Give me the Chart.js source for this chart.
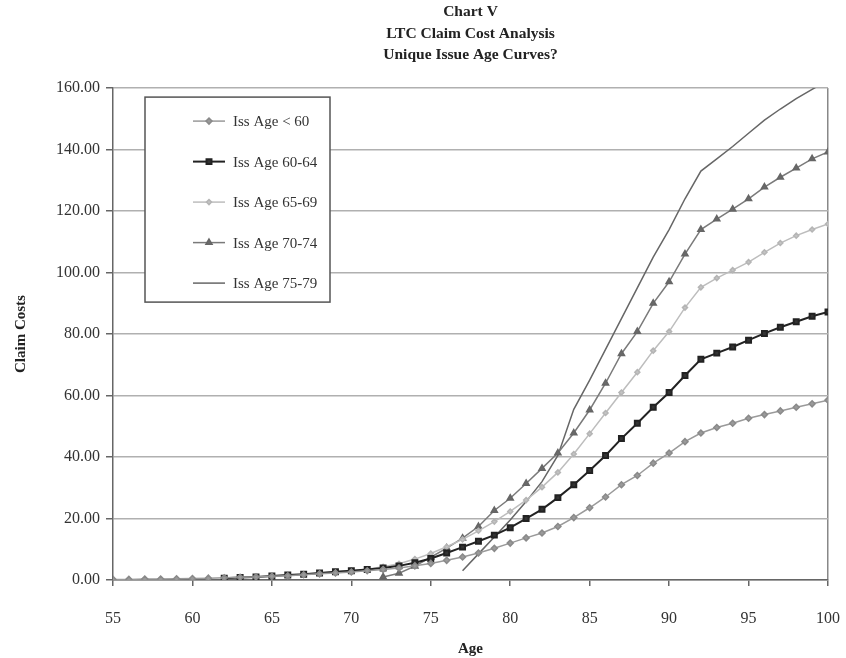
<!DOCTYPE html>
<html>
<head>
<meta charset="utf-8">
<title>Chart V - LTC Claim Cost Analysis</title>
<script src="https://cdn.jsdelivr.net/npm/chart.js@4.4.1/dist/chart.umd.min.js"></script>
<style>
  html, body { margin: 0; padding: 0; background: #fff; }
  #wrap { width: 846px; height: 658px; position: relative; }
</style>
</head>
<body>
<div id="wrap"><canvas id="myChart"></canvas></div>
<script>
// ages 55..100
const ages = [55, 56, 57, 58, 59, 60, 61, 62, 63, 64, 65, 66, 67, 68, 69, 70, 71, 72, 73, 74, 75, 76, 77,
  78, 79, 80, 81, 82, 83, 84, 85, 86, 87, 88, 89, 90, 91, 92, 93, 94, 95, 96, 97, 98, 99, 100]

const seriesNames = ['Iss Age < 60', 'Iss Age 60-64', 'Iss Age 65-69', 'Iss Age 70-74', 'Iss Age 75-79']

// claim costs by attained age (null = before issue age band)
const issLt60 = [0.2, 0.2, 0.3, 0.3, 0.4, 0.5, 0.6, 0.7, 0.9, 1.0, 1.2, 1.4, 1.7, 2.0, 2.3, 2.6, 3.0, 3.4, 3.9, 4.6, 5.4, 6.4, 7.5,
  8.8, 10.3, 12.0, 13.7, 15.3, 17.4, 20.3, 23.5, 27.0, 31.0, 34.0, 38.0, 41.3, 45.0, 47.8, 49.6, 51.0, 52.6, 53.8, 55.0, 56.2, 57.3, 58.5]
const iss6064 = [null, null, null, null, null, null, null, 0.6, 0.8, 1.0, 1.3, 1.6, 1.9, 2.3, 2.7, 3.0, 3.4, 3.9, 4.6, 5.6, 7.0, 8.8, 10.7,
  12.6, 14.6, 17.0, 20.0, 23.0, 26.8, 31.0, 35.6, 40.5, 46.0, 51.0, 56.2, 61.0, 66.5, 71.8, 73.8, 75.8, 78.0, 80.2, 82.2, 84.0, 85.8, 87.2]
const iss6569 = [null, null, null, null, null, null, null, null, null, null, null, null, 1.8, 2.2, 2.6, 3.0, 3.5, 4.3, 5.3, 6.8, 8.6, 10.8, 13.2,
  16.0, 19.0, 22.3, 26.0, 30.2, 35.0, 41.0, 47.6, 54.3, 61.0, 67.6, 74.6, 80.8, 88.6, 95.2, 98.2, 100.8, 103.4, 106.6, 109.6, 112.0, 114.0, 115.8]
const iss7074 = [null, null, null, null, null, null, null, null, null, null, null, null, null, null, null, null, null, 1.0, 2.2, 4.5, 7.4, 10.4, 13.6,
  17.4, 22.6, 26.6, 31.4, 36.3, 41.3, 47.8, 55.3, 64.0, 73.6, 80.8, 90.0, 97.0, 106.0, 114.0, 117.4, 120.6, 124.0, 127.8, 131.0, 134.0, 137.0, 139.2]
const iss7579 = [null, null, null, null, null, null, null, null, null, null, null, null, null, null, null, null, null, null, null, null, null, null, 3.0,
  8.5, 14.0, 19.5, 25.5, 32.0, 40.5, 55.5, 65.0, 75.0, 85.0, 95.0, 105.0, 114.0, 124.0, 133.0, 137.0, 141.0, 145.3, 149.6, 153.2, 156.6, 159.6, 162.5]

const xTicks = [55, 60, 65, 70, 75, 80, 85, 90, 95, 100]
const yTicks = [0, 20, 40, 60, 80, 100, 120, 140, 160]

const serif = "'Liberation Serif', 'Times New Roman', serif"

function toPoints(values) {
  const pts = []
  values.forEach((v, i) => {
    if (v !== null) pts.push({ x: ages[i], y: v })
  })
  return pts
}

// legend drawn as a framed box inside the plot, like the original
const boxLegend = {
  id: 'boxLegend',
  afterDraw(chart) {
    const ctx = chart.ctx
    const area = chart.chartArea
    const bx = area.left + 32
    const by = area.top + 9
    const bw = 185
    const bh = 205
    ctx.save()
    ctx.fillStyle = '#fff'
    ctx.fillRect(bx, by, bw, bh)
    ctx.strokeStyle = '#555'
    ctx.lineWidth = 1.5
    ctx.strokeRect(bx, by, bw, bh)
    chart.data.datasets.forEach((ds, i) => {
      const y = by + 24 + i * 40.5
      ctx.strokeStyle = ds.borderColor
      ctx.lineWidth = ds.borderWidth
      ctx.beginPath()
      ctx.moveTo(bx + 48, y)
      ctx.lineTo(bx + 80, y)
      ctx.stroke()
      if (ds.pointRadius > 0) {
        ctx.fillStyle = ds.pointBackgroundColor
        ctx.strokeStyle = ds.pointBorderColor
        Chart.helpers.drawPoint(ctx, {
          pointStyle: ds.pointStyle,
          radius: ds.pointRadius,
          rotation: 0,
          borderWidth: 1
        }, bx + 64, y)
      }
      ctx.fillStyle = '#333'
      ctx.font = '15px ' + serif
      ctx.textBaseline = 'middle'
      ctx.textAlign = 'left'
      ctx.fillText(ds.label, bx + 88, y + 1)
    })
    ctx.restore()
  }
}

const ctx = document.getElementById('myChart')
const myChart = new Chart(ctx, {
  type: 'line',
  data: {
    datasets: [{
      label: seriesNames[0],
      data: toPoints(issLt60),
      borderColor: '#9a9a9a',
      borderWidth: 1.5,
      pointStyle: 'rectRot',
      pointRadius: 3,
      pointBackgroundColor: '#9a9a9a',
      pointBorderColor: '#8a8a8a'
    }, {
      label: seriesNames[1],
      data: toPoints(iss6064),
      borderColor: '#222',
      borderWidth: 2,
      pointStyle: 'rect',
      pointRadius: 3.5,
      pointBackgroundColor: '#333',
      pointBorderColor: '#222'
    }, {
      label: seriesNames[2],
      data: toPoints(iss6569),
      borderColor: '#bdbdbd',
      borderWidth: 1.5,
      pointStyle: 'rectRot',
      pointRadius: 2.5,
      pointBackgroundColor: '#c4c4c4',
      pointBorderColor: '#b5b5b5'
    }, {
      label: seriesNames[3],
      data: toPoints(iss7074),
      borderColor: '#7a7a7a',
      borderWidth: 1.5,
      pointStyle: 'triangle',
      pointRadius: 3.5,
      pointBackgroundColor: '#6a6a6a',
      pointBorderColor: '#666'
    }, {
      label: seriesNames[4],
      data: toPoints(iss7579),
      borderColor: '#666',
      borderWidth: 1.5,
      pointRadius: 0,
      pointBackgroundColor: '#666',
      pointBorderColor: '#666'
    }]
  },
  options: {
    responsive: true,
    maintainAspectRatio: false,
    animation: false,
    devicePixelRatio: 1,
    layout: { padding: { left: 8, right: 18, top: 0, bottom: 0 } },
    elements: { line: { tension: 0 } },
    scales: {
      x: {
        type: 'linear',
        min: 55,
        max: 100,
        afterBuildTicks: (scale) => { scale.ticks = xTicks.map(v => ({ value: v })) },
        afterFit: (scale) => {
          scale.height = 78
          // tick padding is only vertical here; keep it out of the side padding
          scale.paddingLeft = 0
          scale.paddingRight = 12
        },
        ticks: {
          padding: 23,
          color: '#333',
          font: { family: serif, size: 16 },
          callback: (v) => String(v)
        },
        grid: {
          drawOnChartArea: true,
          color: (c) => (c.tick && c.tick.value === 100 ? '#888' : 'rgba(0,0,0,0)'),
          lineWidth: 1.5,
          tickLength: 6,
          tickColor: '#666'
        },
        border: { display: true, color: '#666', width: 1.5 },
        title: {
          display: true,
          text: 'Age',
          color: '#222',
          font: { family: serif, size: 15, weight: 'bold' },
          padding: { top: 0, bottom: 0 }
        }
      },
      y: {
        min: 0,
        max: 160,
        afterBuildTicks: (scale) => { scale.ticks = yTicks.map(v => ({ value: v })) },
        afterFit: (scale) => { scale.width = 105 },
        ticks: {
          padding: 6,
          color: '#333',
          font: { family: serif, size: 16 },
          callback: (v) => Number(v).toFixed(2)
        },
        grid: {
          color: '#b0b0b0',
          lineWidth: 1.5,
          tickLength: 7,
          tickColor: '#666'
        },
        border: { display: true, color: '#666', width: 1.5 },
        title: {
          display: true,
          text: 'Claim Costs',
          color: '#222',
          font: { family: serif, size: 15, weight: 'bold' },
          padding: { top: 4, bottom: 0 }
        }
      }
    },
    plugins: {
      legend: { display: false },
      tooltip: { enabled: false },
      title: {
        display: true,
        fullSize: false,
        text: ['Chart V', 'LTC Claim Cost Analysis', 'Unique Issue Age Curves?'],
        color: '#222',
        font: { family: serif, size: 15.5, weight: 'bold', lineHeight: 1.4 },
        padding: { top: 1, bottom: 22 }
      }
    }
  },
  plugins: [boxLegend]
})
</script>
</body>
</html>
